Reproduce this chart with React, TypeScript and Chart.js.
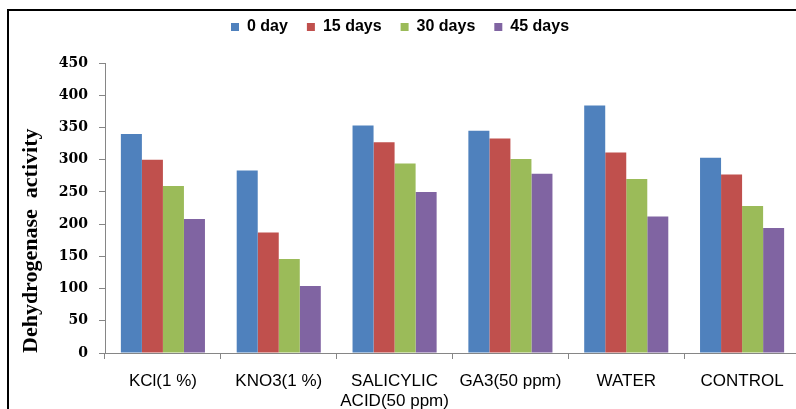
import React, { useEffect, useRef } from "react";
import { Chart, registerables } from "chart.js";

Chart.register(...registerables);

const categories: (string | string[])[] = [
  "KCl(1 %)",
  "KNO3(1 %)",
  ["SALICYLIC", "ACID(50 ppm)"],
  "GA3(50 ppm)",
  "WATER",
  "CONTROL",
];
const seriesNames = ["0 day", "15 days", "30 days", "45 days"];
const day0 = [340, 283, 353, 345, 384, 303];
const day15 = [300, 187, 327, 333, 311, 277];
const day30 = [259, 146, 294, 301, 270, 228];
const day45 = [208, 104, 250, 278, 212, 194];
const seriesColors = ["#4F81BD", "#C0504D", "#9BBB59", "#8064A2"];
const yTitle = "Dehydrogenase  activity";
const yMin = 0;
const yMax = 450;
const yStep = 50;

const CANVAS_W = 800;
const CANVAS_H = 409;

const legendGap = {
  id: "legendGap",
  afterInit(chart: any) {
    const lg = chart.legend;
    if (!lg) return;
    const fit = lg.fit;
    lg.fit = function (this: any) {
      fit.call(this);
      this.height += 18;
    };
  },
};

export default function App() {
  const ref = useRef<HTMLCanvasElement>(null);

  useEffect(() => {
    const values = [day0, day15, day30, day45];
    const chart = new Chart(ref.current as HTMLCanvasElement, {
      type: "bar",
      data: {
        labels: categories,
        datasets: seriesNames.map((name, i) => ({
          label: name,
          data: values[i],
          backgroundColor: seriesColors[i],
          borderWidth: 0,
          categoryPercentage: 0.726,
          barPercentage: 1,
        })),
      },
      plugins: [legendGap],
      options: {
        animation: false,
        responsive: false,
        maintainAspectRatio: false,
        layout: { padding: { top: 0, left: 0, right: 0, bottom: 0 } },
        plugins: {
          tooltip: { enabled: false },
          legend: {
            position: "top",
            align: "center",
            labels: {
              boxWidth: 8,
              boxHeight: 8,
              padding: 19,
              color: "#000",
              font: { family: "Liberation Sans", size: 16, weight: "bold" },
            },
          },
        },
        scales: {
          x: {
            grid: {
              drawOnChartArea: false,
              drawTicks: true,
              tickLength: 6,
              color: "#868686",
              offset: true,
            },
            border: { color: "#868686", width: 1 },
            ticks: {
              color: "#000",
              font: { family: "Liberation Sans", size: 17 },
              padding: 12,
              maxRotation: 0,
              autoSkip: false,
            },
            afterFit: (s: any) => {
              s.height = 56;
            },
          },
          y: {
            min: yMin,
            max: yMax,
            grid: {
              drawOnChartArea: false,
              drawTicks: true,
              tickLength: 6,
              color: "#868686",
            },
            border: { color: "#868686", width: 1 },
            ticks: {
              stepSize: yStep,
              color: "#000",
              padding: 11,
              font: { family: "DejaVu Serif", size: 14, weight: "bold" },
            },
            title: {
              display: true,
              text: yTitle,
              align: "start",
              color: "#000",
              padding: { top: 18, bottom: 0 },
              font: { family: "Liberation Serif", size: 22, weight: "bold" },
            },
            afterFit: (s: any) => {
              s.width = 105;
            },
          },
        },
      },
    });
    return () => chart.destroy();
  }, []);

  return (
    <div
      style={{
        position: "absolute",
        left: 0,
        top: 0,
        width: 796,
        height: 409,
        overflow: "hidden",
        background: "#fff",
      }}
    >
      <div
        style={{
          position: "absolute",
          left: 7,
          top: 9,
          width: 900,
          height: 600,
          borderLeft: "2px solid #000",
          borderTop: "2px solid #000",
        }}
      />
      <canvas
        ref={ref}
        width={CANVAS_W}
        height={CANVAS_H}
        style={{ position: "absolute", left: 0, top: 0, width: CANVAS_W, height: CANVAS_H }}
      />
    </div>
  );
}
